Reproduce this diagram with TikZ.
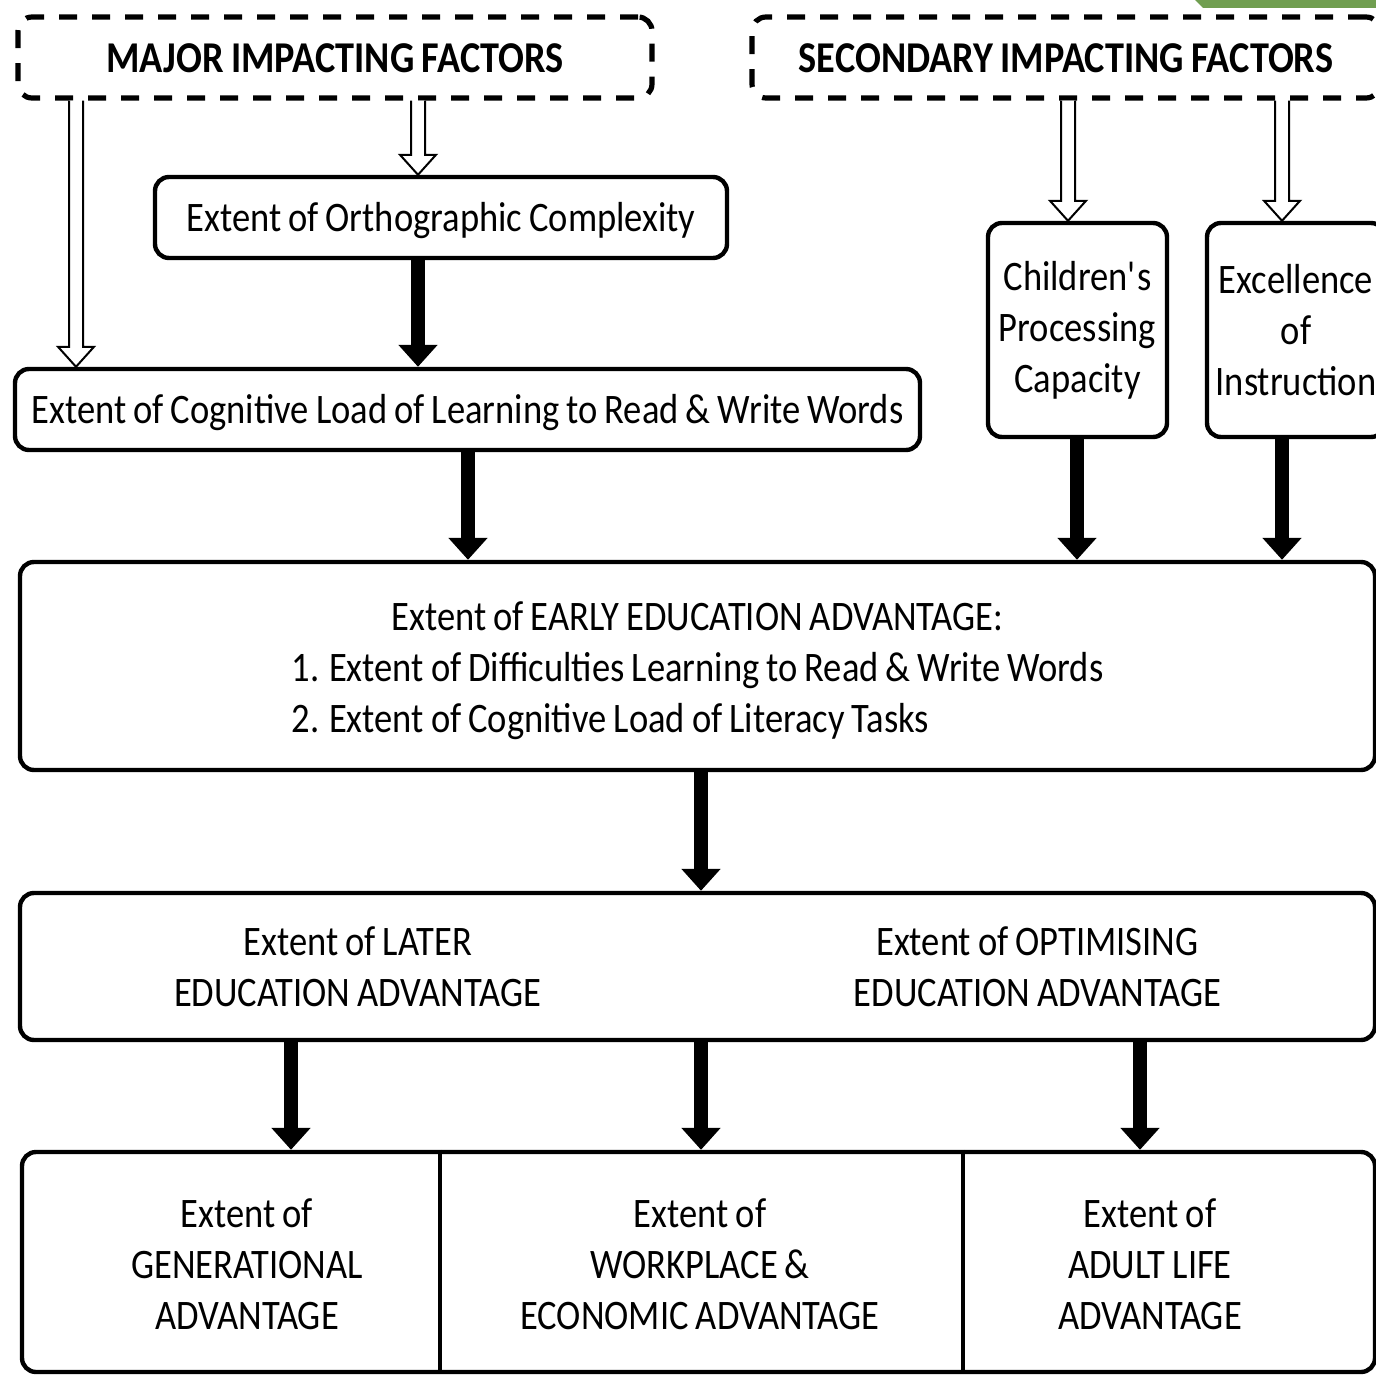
\documentclass[tikz,border=0pt]{standalone}
\usepackage{fontspec}
\setmainfont{Carlito}[FakeStretch=0.87,WordSpace=0.85]
\usetikzlibrary{arrows.meta,calc}

\definecolor{tab}{RGB}{112,158,80}
% lower a text inside its node without changing the node's size
\newcommand\lowered[2]{\raisebox{-#1}[\height][\depth]{#2}}

\begin{document}
\begin{tikzpicture}[
  x=0.5pt,y=-0.5pt,
  font=\fontsize{21}{25.5}\selectfont,
  box/.style={draw,line width=2.2pt,rounded corners=7pt,align=center,inner sep=0pt},
  % dashed headers for the two groups of factors
  factor/.style={box,dash pattern=on 9pt off 7.5pt,line width=2.6pt,
    font=\fontsize{22}{26}\selectfont\bfseries},
  txt/.style={align=center,inner sep=0pt},
  lead/.style={-{Triangle[width=19pt,length=11pt]},line width=7pt},
  % open block arrow, drawn as an outline from start down to target
  hollow/.style={line width=1pt,line join=miter,fill=white,to path={
    let \p1=(\tikztostart),\p2=(\tikztotarget) in
    (\x1-3.5pt,\y1) -- (\x1-3.5pt,\y2+10pt) -- (\x1-9pt,\y2+10pt) -- (\x1,\y2)
    -- (\x1+9pt,\y2+10pt) -- (\x1+3.5pt,\y2+10pt) -- (\x1+3.5pt,\y1)}},
]
\useasboundingbox (0,0) rectangle (1376,1375);
\clip (0,0) rectangle (1376,1375);

\fill[tab] (1195,0) -- (1376,0) -- (1376,8) -- (1203,8) -- cycle;

%--- factors -----------------------------------------------------------------
\node[factor,minimum width=317pt,minimum height=40.5pt] (major) at (335,57.5)
  {\lowered{0.5pt}{MAJOR IMPACTING FACTORS}};
\node[factor,minimum width=314pt,minimum height=40.5pt] (second) at (1066,57.5)
  {\lowered{0.5pt}{SECONDARY IMPACTING FACTORS}};

\node[box,minimum width=286pt,minimum height=40.5pt] (ortho) at (441,217.5)
  {\lowered{1.5pt}{Extent of Orthographic Complexity}};
\node[box,minimum width=452.5pt,minimum height=40.5pt] (cogload) at (467.5,409.5)
  {\lowered{1.5pt}{Extent of Cognitive Load of Learning to Read \& Write Words}};
\node[box,minimum width=89.5pt,minimum height=107pt] (children) at (1077.5,330)
  {Children\textquotesingle s\\Processing\\Capacity};
\node[box,minimum width=89pt,minimum height=107pt] (excel) at (1296,330)
  {Excellence\\of\\Instruction};

%--- advantages --------------------------------------------------------------
\node[box,minimum width=677.5pt,minimum height=104pt] (early) at (697.5,666)
  {\lowered{2.5pt}{\begin{tabular}{@{}l@{}}
   \multicolumn{1}{@{}c@{}}{Extent of EARLY EDUCATION ADVANTAGE:}\\
   1. Extent of Difficulties Learning to Read \& Write Words\\
   2. Extent of Cognitive Load of Literacy Tasks
   \end{tabular}}};

\node[box,minimum width=677.5pt,minimum height=73.5pt] (later) at (697.5,966.5) {};
\node[txt] (laterL) at ($(later.west)!0.25!(later.east)$)
  {Extent of LATER\\EDUCATION ADVANTAGE};
\node[txt] (laterR) at ($(later.west)!0.75!(later.east)$)
  {Extent of OPTIMISING\\EDUCATION ADVANTAGE};

\node[box,minimum width=676.5pt,minimum height=110pt] (outcome) at (698.5,1262) {};
\draw[line width=2.2pt] (440,0 |- outcome.north) -- (440,0 |- outcome.south);
\draw[line width=2.2pt] (963,0 |- outcome.north) -- (963,0 |- outcome.south);
\node[txt] (gen) at (247,1264) {Extent of\\GENERATIONAL\\ADVANTAGE};
\node[txt] (work) at (700,1264) {Extent of\\WORKPLACE \&\\ECONOMIC ADVANTAGE};
\node[txt] (adult) at (1150,1264) {Extent of\\ADULT LIFE\\ADVANTAGE};

%--- connectors --------------------------------------------------------------
\draw[hollow] (76,0 |- major.south) to (76,0 |- cogload.north);
\draw[hollow] (418,0 |- major.south) to (418,0 |- ortho.north);
\draw[hollow] (1068,0 |- second.south) to (1068,0 |- children.north);
\draw[hollow] (1282,0 |- second.south) to (1282,0 |- excel.north);

\draw[lead] (418,0 |- ortho.south) -- (418,0 |- cogload.north);
\draw[lead] (468,0 |- cogload.south) -- (468,0 |- early.north);
\draw[lead] (1077,0 |- children.south) -- (1077,0 |- early.north);
\draw[lead] (1282,0 |- excel.south) -- (1282,0 |- early.north);
\draw[lead] (701,0 |- early.south) -- (701,0 |- later.north);
\foreach \x in {291,701,1140}
  \draw[lead] (\x,0 |- later.south) -- (\x,0 |- outcome.north);

\end{tikzpicture}
\end{document}
